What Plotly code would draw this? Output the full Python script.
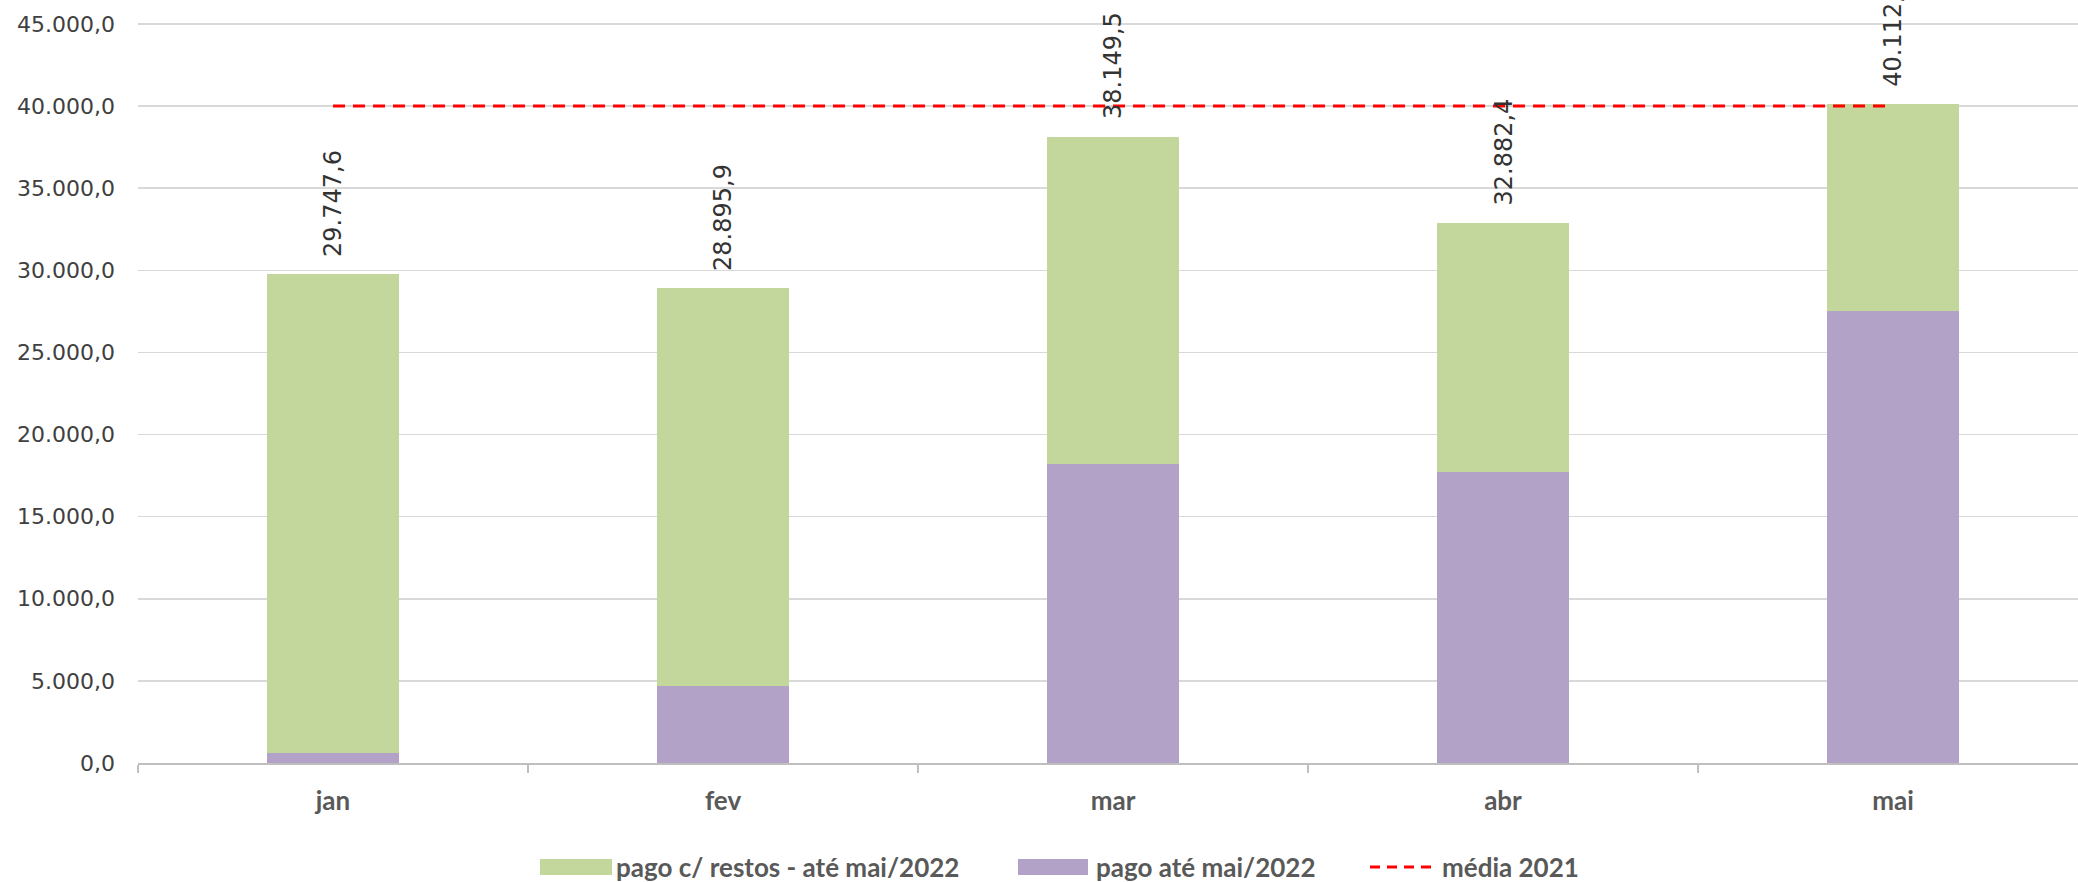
import plotly.graph_objects as go

# ---- data ----
months = ["jan", "fev", "mar", "abr", "mai"]
pago_ate = [610.0, 4660.0, 18190.0, 17740.0, 27550.0]            # pago até mai/2022
pago_restos = [29137.6, 24235.9, 19959.5, 15142.4, 12562.4]      # pago c/ restos - até mai/2022 (parcela acima)
totais = [29747.6, 28895.9, 38149.5, 32882.4, 40112.4]           # rótulos
media_2021 = [40000.0, 40000.0, 40000.0, 40000.0, 40000.0]

GREEN = "#c3d69b"
PURPLE = "#b2a2c7"
RED = "#ff0000"

W, H = 2078, 882
L, T, B = 138, 0, 119
PW = W - L
PH = H - T - B


def X(px):
    return (px - L) / PW


def Y(py):
    return (T + PH - py) / PH


def br(v):
    s = f"{v:,.1f}"
    return s.replace(",", "X").replace(".", ",").replace("X", ".")


fig = go.Figure()
fig.add_trace(go.Bar(x=months, y=pago_ate, name="pago até mai/2022",
                     marker=dict(color=PURPLE, line=dict(width=0)), width=0.34))
fig.add_trace(go.Bar(x=months, y=pago_restos, name="pago c/ restos - até mai/2022",
                     marker=dict(color=GREEN, line=dict(width=0)), width=0.34))
fig.add_trace(go.Scatter(x=months, y=media_2021, name="média 2021", mode="lines",
                         line=dict(color=RED, width=3, dash="12px,8px")))

annotations = []
for m, t in zip(months, totais):
    annotations.append(dict(x=m, y=t, xref="x", yref="y", text=br(t), showarrow=False,
                            textangle=-90, yanchor="bottom", xanchor="center", yshift=15,
                            font=dict(family="DejaVu Sans", size=24, color="#333333")))

# custom legend
leg_font = dict(family="Lato", size=26, color="#595959", weight="bold")
ly = 867
shapes = [
    dict(type="rect", xref="paper", yref="paper", x0=X(540), x1=X(612), y0=Y(875), y1=Y(859),
         fillcolor=GREEN, line=dict(width=0)),
    dict(type="rect", xref="paper", yref="paper", x0=X(1018), x1=X(1088), y0=Y(875), y1=Y(859),
         fillcolor=PURPLE, line=dict(width=0)),
    dict(type="line", xref="paper", yref="paper", x0=X(1370), x1=X(1436), y0=Y(ly), y1=Y(ly),
         line=dict(color=RED, width=3, dash="10px,7px")),
]
for txt, px in [("pago c/ restos - até mai/2022", 615), ("pago até mai/2022", 1095), ("média 2021", 1441)]:
    annotations.append(dict(x=X(px), y=Y(ly), xref="paper", yref="paper", text=txt, showarrow=False,
                            xanchor="left", yanchor="middle", font=leg_font, borderpad=0))

ymax = 45000 * PH / (763 - 24)

fig.update_layout(
    width=W, height=H,
    margin=dict(l=L, r=0, t=T, b=B, pad=0),
    barmode="stack",
    showlegend=False,
    hovermode=False,
    plot_bgcolor="white", paper_bgcolor="white",
    separators=",.",
    shapes=shapes,
    annotations=annotations,
    xaxis=dict(range=[-0.5, -0.5 + PW / 390.0], showgrid=False, showline=True,
               linecolor="#bfbfbf", linewidth=1.5, ticks="outside", tickson="boundaries",
               ticklen=8, tickcolor="#bfbfbf", tickwidth=1.5, ticklabelstandoff=14,
               tickfont=dict(family="Lato", size=26, color="#595959", weight="bold")),
    yaxis=dict(range=[0, ymax], tick0=0, dtick=5000, tickformat=",.1f", showgrid=True,
               gridcolor="#d9d9d9", gridwidth=1.5, zeroline=False, showline=False,
               ticks="", ticklabelstandoff=22,
               tickfont=dict(family="DejaVu Sans", size=22, color="#404040")),
)

fig.write_html("out.html", config={"displayModeBar": False, "staticPlot": True},
               post_script="document.body.style.margin='0';document.body.style.overflow='hidden';")
